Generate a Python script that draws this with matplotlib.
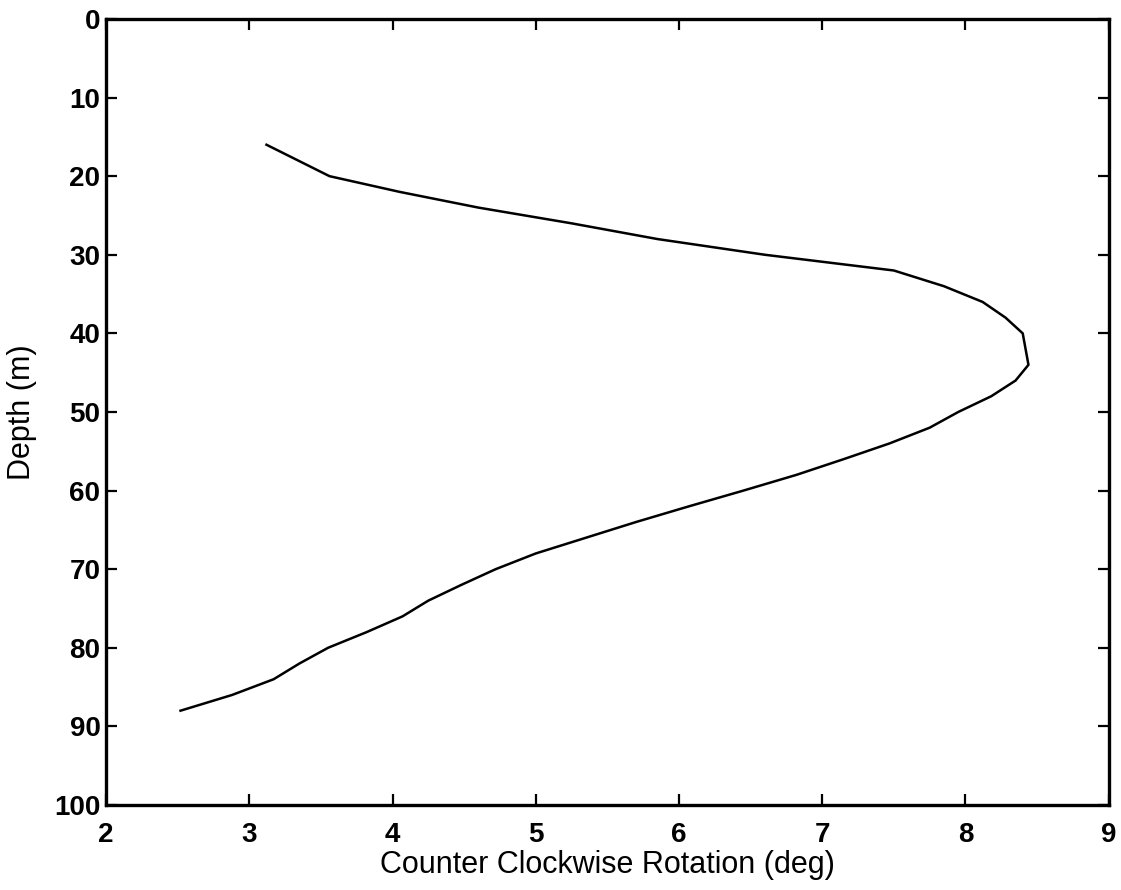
import numpy as np
import matplotlib
matplotlib.use('Agg')
import matplotlib.pyplot as plt

# rotation profile (deg) against depth (m)
depth = [16, 20, 22, 24, 26, 28, 30, 32, 34, 36, 38, 40, 42, 44, 46, 48,
         50, 52, 54, 56, 58, 60, 62, 64, 66, 68, 70, 72, 74, 76, 78, 80,
         82, 84, 86, 88]
rotation = [3.12, 3.56, 4.05, 4.60, 5.25, 5.85, 6.60, 7.50, 7.85, 8.12,
            8.28, 8.40, 8.42, 8.44, 8.35, 8.18, 7.95, 7.75, 7.47, 7.15,
            6.82, 6.45, 6.07, 5.70, 5.35, 5.00, 4.72, 4.48, 4.25, 4.07,
            3.82, 3.55, 3.35, 3.17, 2.88, 2.52]

xticks = [2, 3, 4, 5, 6, 7, 8, 9]
yticks = [0, 10, 20, 30, 40, 50, 60, 70, 80, 90, 100]

plt.rcParams['font.family'] = ['Liberation Sans', 'DejaVu Sans']

fig = plt.figure(figsize=(11.21, 8.90), dpi=100)
ax = fig.add_axes([0.0946, 0.0955, 0.8944, 0.8832])

ax.plot(rotation, depth, color='black', linewidth=1.8)

ax.set_xlim(2, 9)
ax.set_ylim(100, 0)
ax.set_xticks(xticks)
ax.set_yticks(yticks)
ax.tick_params(direction='in', length=8, width=1.6, top=True, right=True,
               labelsize=20)
ax.tick_params(axis='x', pad=12)
ax.tick_params(axis='y', pad=4)
for lab in ax.get_xticklabels() + ax.get_yticklabels():
    lab.set_fontweight('bold')
for sp in ax.spines.values():
    sp.set_linewidth(2.4)

ax.set_xlabel('Counter Clockwise Rotation (deg)', fontsize=22)
ax.set_ylabel('Depth (m)', fontsize=22)
ax.xaxis.set_label_coords(0.5, -0.076)
ax.xaxis.label.set_va('center')
ax.yaxis.set_label_coords(-0.084, 0.5)
ax.yaxis.label.set_va('center')

fig.savefig('out.png', dpi=100)
